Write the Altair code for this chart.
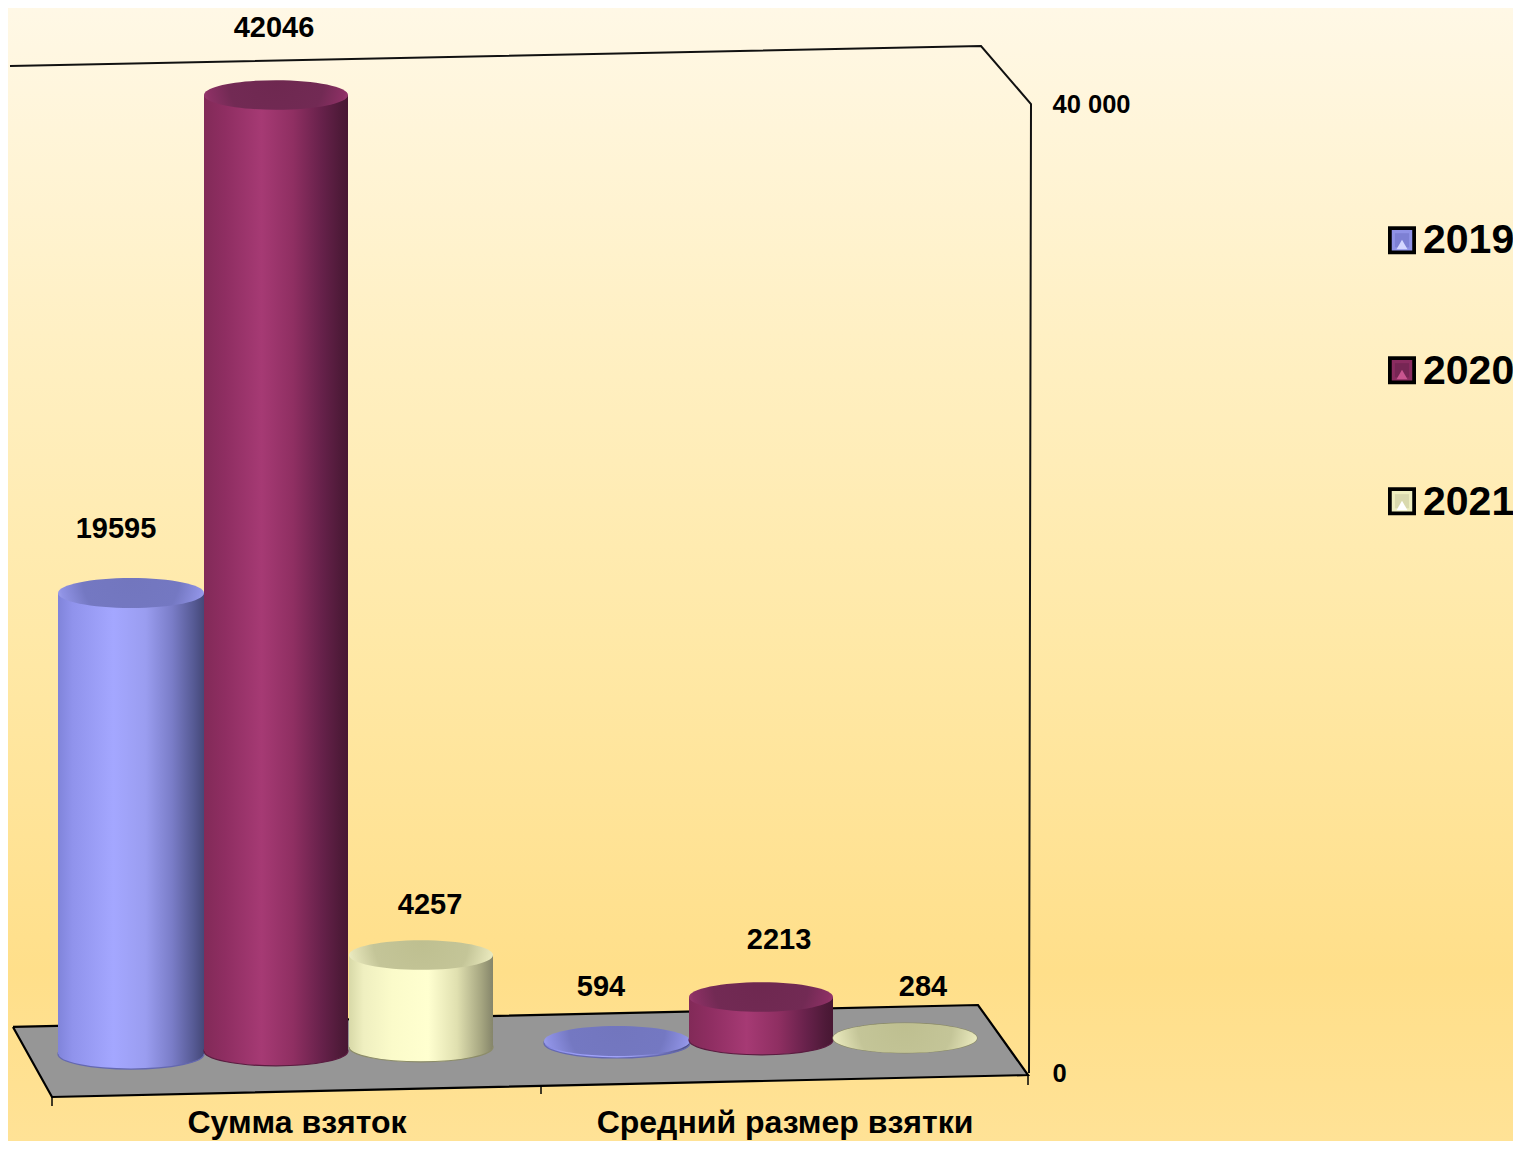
import altair as alt
import pandas as pd

# --- values ---
categories = ["Сумма взяток", "Средний размер взятки"]
years = ["2019", "2020", "2021"]
values = [19595, 42046, 4257, 594, 2213, 284]
row_year = ["2019", "2020", "2021", "2019", "2020", "2021"]
# drawn levels on the perspective axis (axis units)
top_level = [19814, 40372, 4870, 1321, 3137, 1445]
base_level = [784, 908, 1073, 1239, 1362, 1445]
# horizontal extent of the columns
left = [58, 204, 349, 544, 689, 833]
right = [204, 348, 493, 690, 833, 977]
# label placement relative to column
label_dx = [-15, -2, 9, -16, 18, 18]
label_up = [2660, 2767, 2078, 2220, 2360, 2090]

axis_ticks = [0, 40000]
cat_x = [297, 785]
cat_y = [-2064, -2050]

floor_x = [13, 52, 978, 1028]
floor_top = [1900, 1937, 2807, -83]
floor_bot = [1900, -990, -124, -83]
edge_x = [13, 978, 1028, 52, 13]
edge_y = [1900, 2807, -83, -990, 1900]
wall_x = [10, 981, 1031, 1029]
wall_y = [41569, 42394, 40000, 0]
tick_x = [52, 541, 1028]
tick_top = [-990, -495, -83]
tick_bot = [-1362, -867, -495]
key_x = [1402, 1402, 1402]
key_y = [34375, 29009, 23602]
key_y_tri = [34200, 28834, 23427]

W, H = 1505, 1133
X = alt.Scale(domain=[8, 1513], nice=False, zero=False)
Y = alt.Scale(domain=[-2807, 43963], nice=False, zero=False)
FONT = "Liberation Sans"

palette = {"2019": "#8f92e6", "2020": "#8a2c60", "2021": "#eeeec0"}
key_inner = {"2019": "#7d80d4", "2020": "#762654", "2021": "#d9d9ae"}
key_tri = {"2019": "#d4d6ff", "2020": "#c8558f", "2021": "#ffffff"}

def hgrad(stops):
    return alt.LinearGradient(gradient="linear", x1=0, x2=1, y1=0, y2=0,
                              stops=[alt.GradientStop(offset=o, color=c) for o, c in stops])

def rgrad(stops):
    return alt.RadialGradient(gradient="radial", x1=0.5, y1=0.4, r1=0, x2=0.5, y2=0.4, r2=0.6,
                              stops=[alt.GradientStop(offset=o, color=c) for o, c in stops])

body = {
    "2019": [(0, "#8084da"), (.1, "#9093ec"), (.38, "#a4a7ff"), (.6, "#9a9df0"), (.78, "#7a7dc8"), (.93, "#565a94"), (1, "#454878")],
    "2020": [(0, "#822a58"), (.15, "#8f2e62"), (.4, "#a63a74"), (.62, "#8f2f62"), (.82, "#66214a"), (.95, "#4e1a38"), (1, "#481733")],
    "2021": [(0, "#d8d9a8"), (.1, "#efefc0"), (.3, "#fbfbca"), (.55, "#ffffd0"), (.75, "#e0e0b0"), (.92, "#a5a580"), (1, "#85856a")],
}
cap = {
    "2019": [(0, "#7276be"), (.55, "#7478c2"), (.8, "#8f92e4"), (1, "#babcff")],
    "2020": [(0, "#6e2850"), (.55, "#722a54"), (.8, "#8c3064"), (1, "#b84a86")],
    "2021": [(0, "#bebf90"), (.55, "#c4c598"), (.8, "#e4e4b8"), (1, "#ffffdc")],
}
rim = {"2019": "#6468b0", "2020": "#5a1c40", "2021": "#8c8c68"}

df = pd.DataFrame({
    "year": row_year, "value": values, "top": top_level, "base": base_level,
    "left": left, "right": right,
})
df["cx"] = (df.left + df.right) / 2
df["label_x"] = df.cx + pd.Series(label_dx)
df["label_y"] = df.top + pd.Series(label_up)
df["size"] = (df.right - df.left) ** 2

ELLIPSE = "M -1 0 A 1 0.206 0 1 1 1 0 A 1 0.206 0 1 1 -1 0 Z"

Y_AXIS = alt.Axis(
    values=axis_ticks, orient="right", offset=1023 - W, title=None, grid=False, ticks=False,
    domain=False, labelPadding=21, labelFont=FONT, labelFontSize=25.5, labelFontWeight="bold",
    labelColor="black", labelExpr="replace(format(datum.value, ','), ',', ' ')", zindex=1)

XQ = lambda f: alt.X(f, scale=X, axis=None)
YQ = lambda f: alt.Y(f, scale=Y, axis=Y_AXIS)

background = alt.Chart(pd.DataFrame({"a": [8], "b": [1513], "t": [43963], "u": [-2807]})).mark_rect(
    fill=alt.LinearGradient(gradient="linear", x1=0, x2=0, y1=0, y2=1, stops=[
        alt.GradientStop(offset=0, color="#fff8e6"),
        alt.GradientStop(offset=.25, color="#fff1c8"),
        alt.GradientStop(offset=.55, color="#ffe9a8"),
        alt.GradientStop(offset=.85, color="#ffdf8a"),
        alt.GradientStop(offset=1, color="#ffe296"),
    ])
).encode(x=XQ("a:Q"), x2="b:Q", y=YQ("t:Q"), y2="u:Q")

floor = alt.Chart(pd.DataFrame({"x": floor_x, "t": floor_top, "b": floor_bot})).mark_area(color="#969696").encode(
    x=XQ("x:Q"), y=YQ("t:Q"), y2="b:Q")

edge = alt.Chart(pd.DataFrame({"x": edge_x, "y": edge_y, "o": range(len(edge_x))})).mark_line(
    color="black", strokeWidth=2.2).encode(x=XQ("x:Q"), y=YQ("y:Q"), order="o:Q")

wall = alt.Chart(pd.DataFrame({"x": wall_x, "y": wall_y, "o": range(len(wall_x))})).mark_line(
    color="#111111", strokeWidth=2).encode(x=XQ("x:Q"), y=YQ("y:Q"), order="o:Q")

ticks = alt.Chart(pd.DataFrame({"x": tick_x, "t": tick_top, "b": tick_bot})).mark_rule(
    color="black", strokeWidth=1.5).encode(x=XQ("x:Q"), y=YQ("t:Q"), y2="b:Q")

legend_bars = alt.Chart(df).mark_rect().encode(
    x=XQ("left:Q"), x2="right:Q", y=YQ("top:Q"), y2="base:Q",
    color=alt.Color("year:N", scale=alt.Scale(domain=years, range=[palette[y] for y in years]),
                    legend=alt.Legend(orient="none", legendX=1372, legendY=212, title=None,
                                      symbolType="square", symbolSize=600, symbolOpacity=0,
                                      labelFont=FONT, labelFontSize=41, labelFontWeight="bold",
                                      labelColor="black", labelOffset=2, rowPadding=89,
                                      labelLimit=200)),
)

layers = [background, floor, edge, wall, ticks, legend_bars]
for y in years:
    d = df[df.year == y]
    layers.append(alt.Chart(d).mark_point(shape=ELLIPSE, filled=True, fill=hgrad(body[y]), opacity=1,
                                          stroke=rim[y], strokeWidth=1.2).encode(
        x=XQ("cx:Q"), y=YQ("base:Q"), size=alt.Size("size:Q", scale=None, legend=None)))
    layers.append(alt.Chart(d).mark_rect(fill=hgrad(body[y])).encode(
        x=XQ("left:Q"), x2="right:Q", y=YQ("top:Q"), y2="base:Q"))
    layers.append(alt.Chart(d).mark_point(shape=ELLIPSE, filled=True, fill=rgrad(cap[y]), opacity=1).encode(
        x=XQ("cx:Q"), y=YQ("top:Q"), size=alt.Size("size:Q", scale=None, legend=None)))

key = pd.DataFrame({"x": key_x, "y": key_y, "ty": key_y_tri,
                    "mid": [palette[y] for y in years], "inner": [key_inner[y] for y in years],
                    "tri": [key_tri[y] for y in years]})
def key_layer(shape, size, fill_field, yf):
    return alt.Chart(key).mark_point(shape=shape, filled=True, size=size, opacity=1).encode(
        x=XQ("x:Q"), y=YQ(yf + ":Q"), fill=alt.Fill(fill_field + ":N", scale=None, legend=None))
key_frame = alt.Chart(key).mark_point(shape="square", filled=True, size=784, opacity=1, fill="black").encode(
    x=XQ("x:Q"), y=YQ("y:Q"))
key_layers = [key_frame, key_layer("square", 420, "mid", "y"),
              key_layer("square", 200, "inner", "y"), key_layer("triangle-up", 120, "tri", "ty")]

labels = alt.Chart(df).mark_text(font=FONT, fontSize=29, fontWeight="bold", color="black").encode(
    x=XQ("label_x:Q"), y=YQ("label_y:Q"), text="value:Q")

cats = alt.Chart(pd.DataFrame({"c": categories, "x": cat_x, "y": cat_y})).mark_text(
    font=FONT, fontSize=32, fontWeight="bold", color="black").encode(
    x=XQ("x:Q"), y=YQ("y:Q"), text="c:N")

chart = alt.layer(*layers, *key_layers, labels, cats).properties(
    width=W, height=H, padding=0, autosize=alt.AutoSizeParams(type="none")
).configure_view(stroke=None)

chart.save("out.html", embed_options={"renderer": "svg", "actions": False})
